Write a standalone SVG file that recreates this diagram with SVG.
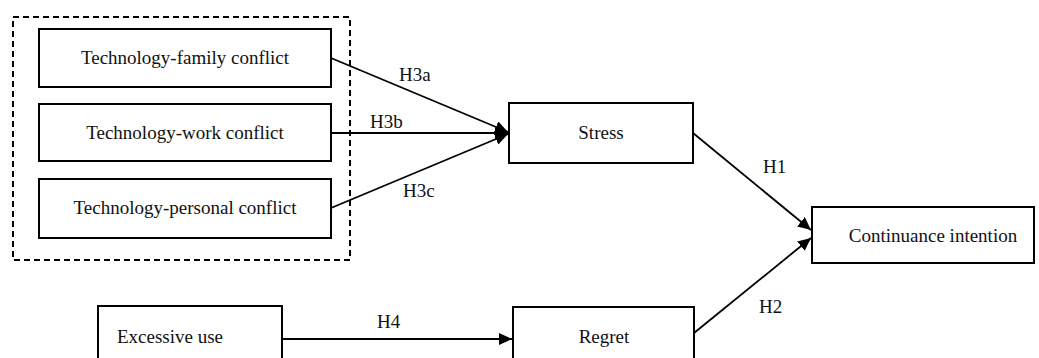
<svg xmlns="http://www.w3.org/2000/svg" width="1039" height="358" viewBox="0 0 1039 358">
<style>
.box{fill:#fff;stroke:#000;stroke-width:2}
.lbl{font-family:"Liberation Serif","Times New Roman",serif;font-size:19px;fill:#111}
.conn{stroke:#000;stroke-width:1.8;fill:none}
</style>
<defs>
<marker id="ah" markerUnits="userSpaceOnUse" markerWidth="14" markerHeight="12" refX="13" refY="6" orient="auto">
<path d="M0,0 L13,6 L0,12 Z" fill="#000"/>
</marker>
</defs>
<rect x="13" y="17" width="337" height="243" fill="none" stroke="#000" stroke-width="2" stroke-dasharray="6,4"/>
<g id="n-tfc"><rect class="box" x="39" y="29" width="292" height="58"/><text class="lbl" x="185" y="64" text-anchor="middle">Technology-family conflict</text></g>
<g id="n-twc"><rect class="box" x="39" y="104" width="292" height="57"/><text class="lbl" x="185" y="139" text-anchor="middle">Technology-work conflict</text></g>
<g id="n-tpc"><rect class="box" x="39" y="179" width="292" height="59"/><text class="lbl" x="185" y="214" text-anchor="middle">Technology-personal conflict</text></g>
<g id="n-stress"><rect class="box" x="509" y="103" width="184" height="60"/><text class="lbl" x="601" y="139" text-anchor="middle">Stress</text></g>
<g id="n-ci"><rect class="box" x="812" y="207" width="222" height="56"/><text class="lbl" x="933" y="242" text-anchor="middle">Continuance intention</text></g>
<g id="n-ex"><rect class="box" x="98" y="306" width="184" height="60"/><text class="lbl" x="117" y="343">Excessive use</text></g>
<g id="n-regret"><rect class="box" x="513" y="307" width="181" height="60"/><text class="lbl" x="604" y="343" text-anchor="middle">Regret</text></g>
<g id="connectors">
<line class="conn" x1="331" y1="58" x2="508" y2="132" marker-end="url(#ah)"/>
<line class="conn" x1="331" y1="133" x2="508" y2="133" marker-end="url(#ah)"/>
<line class="conn" x1="331" y1="208" x2="508" y2="134" marker-end="url(#ah)"/>
<line class="conn" x1="693" y1="133" x2="811" y2="230" marker-end="url(#ah)"/>
<line class="conn" x1="694" y1="333" x2="811" y2="238" marker-end="url(#ah)"/>
<line class="conn" x1="282" y1="339" x2="512" y2="339" marker-end="url(#ah)"/>
<text class="lbl" x="399" y="81">H3a</text>
<text class="lbl" x="370" y="128">H3b</text>
<text class="lbl" x="403" y="197">H3c</text>
<text class="lbl" x="763" y="173">H1</text>
<text class="lbl" x="759" y="313">H2</text>
<text class="lbl" x="377" y="328">H4</text>
</g>
</svg>
